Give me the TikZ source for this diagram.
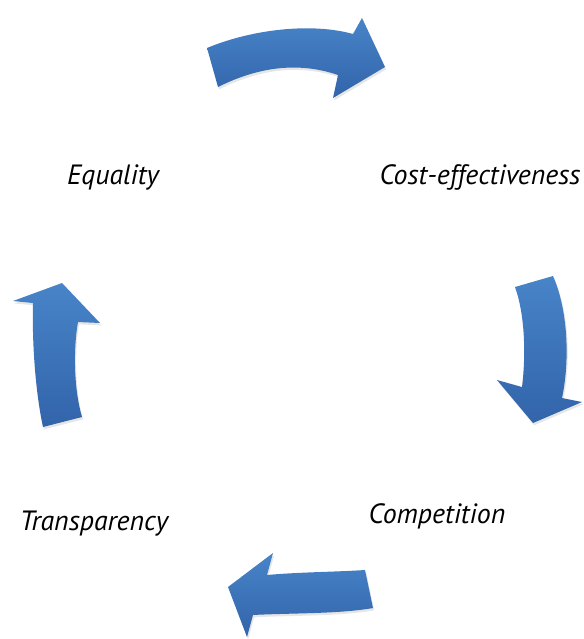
\documentclass[tikz,border=0pt]{standalone}
\usepackage{fontspec}
\setmainfont{PT Sans}
\usetikzlibrary{shadows}
\definecolor{arrowtop}{RGB}{72,132,200}
\definecolor{arrowbot}{RGB}{50,100,170}
\tikzset{
  label/.style={anchor=base, font=\fontsize{23.8}{28}\selectfont\itshape, inner sep=0pt},
  blockarrow/.style={top color=arrowtop, bottom color=arrowbot, draw=none,
    drop shadow={opacity=0.2, shadow xshift=1pt, shadow yshift=-2pt}}
}
\begin{document}
\begin{tikzpicture}[x=0.03cm, y=-0.03cm]
      \useasboundingbox (0,0) rectangle (583,639);
      \draw
        (113,184) node[label] (0){Equality}
        (480,184) node[label] (1){Cost-effectiveness}
        (437,523) node[label] (2){Competition}
        (94,530) node[label] (3){Transparency};
      \begin{scope}[blockarrow]
        % 0 -> 1
        \path[blockarrow] (207,48) .. controls (250,30) and (310,22) .. (353,34)
          -- (362,18) -- (385,67) -- (333,98) -- (338,75)
          .. controls (300,62) and (260,66) .. (218,87) -- cycle;
        % 1 -> 2
        \path[blockarrow] (515,287) -- (553,276) .. controls (568,310) and (570,360) .. (562,398)
          -- (582,402) -- (533,423) -- (497,380) -- (522,387)
          .. controls (526,355) and (525,315) .. (515,287) -- cycle;
        % 2 -> 3
        \path[blockarrow] (365,570) .. controls (335,572) and (300,572) .. (267,575)
          -- (273,553) -- (228,587) -- (247,637) -- (253,615)
          .. controls (290,613) and (340,614) .. (373,608) -- cycle;
        % 3 -> 0
        \path[blockarrow] (43,427) .. controls (35,390) and (32,340) .. (33,303)
          -- (13,301) -- (62,283) -- (100,323) -- (78,322)
          .. controls (73,350) and (74,390) .. (82,417) -- cycle;
      \end{scope}
    \end{tikzpicture}
\end{document}
